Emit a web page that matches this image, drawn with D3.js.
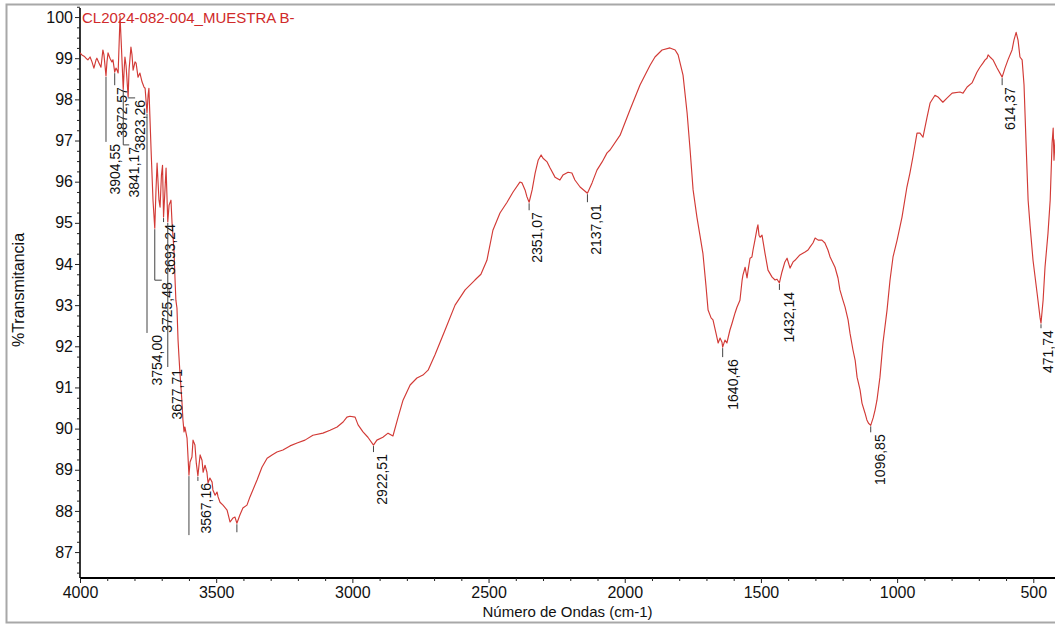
<!DOCTYPE html>
<html>
<head>
<meta charset="utf-8">
<script src="https://cdn.jsdelivr.net/npm/d3@7"></script>
<style>
  body { margin: 0; background: #fff; }
  svg { display: block; font-family: "Liberation Sans", Arial, sans-serif; }
</style>
</head>
<body>
<svg id="chart" width="1055" height="626"></svg>
<script>
// ---- Texts ----
const sampleName = "CL2024-082-004_MUESTRA B-";
const xTitle = "Número de Ondas (cm-1)";
const yTitle = "%Transmitancia";

// ---- Axis ticks ----
const xTickValues = [4000, 3500, 3000, 2500, 2000, 1500, 1000, 500];
const yTickValues = [87, 88, 89, 90, 91, 92, 93, 94, 95, 96, 97, 98, 99, 100];

// ---- FTIR spectrum (cm-1, %T) ----
const wavenumber = [
  4000, 3993, 3985, 3978, 3971, 3963, 3956, 3949, 3941, 3938, 3930, 3923, 3916, 3912,
  3901, 3897, 3890, 3883, 3879, 3868, 3864, 3860, 3853, 3849, 3838, 3835, 3831,
  3820, 3813, 3809, 3805, 3798, 3794, 3787, 3780, 3772, 3765, 3761, 3750, 3747,
  3739, 3732, 3721, 3717, 3710, 3706, 3701, 3697, 3688, 3684, 3673, 3666, 3662,
  3655, 3651, 3648, 3644, 3640, 3637, 3633, 3626, 3622, 3618, 3615, 3607, 3600,
  3596, 3589, 3585, 3578, 3573, 3563, 3559, 3552, 3548, 3541, 3534, 3530, 3523,
  3515, 3512, 3504, 3497, 3493, 3486, 3475, 3460, 3449, 3438, 3431, 3424, 3413,
  3402, 3387, 3376, 3350, 3332, 3313, 3295, 3277, 3255, 3229, 3203, 3174, 3145,
  3108, 3082, 3056, 3034, 3020, 3009, 2990, 2979, 2961, 2943, 2910, 2888, 2869,
  2851, 2832, 2814, 2788, 2763, 2741, 2722, 2697, 2660, 2623, 2586, 2550, 2528,
  2506, 2484, 2458, 2432, 2410, 2385, 2377, 2366, 2359, 2340, 2329, 2318, 2307,
  2300, 2285, 2274, 2256, 2238, 2227, 2208, 2194, 2183, 2164, 2120, 2102, 2083,
  2065, 2054, 2017, 1981, 1944, 1907, 1889, 1863, 1834, 1815, 1804, 1786, 1771,
  1760, 1749, 1735, 1724, 1713, 1702, 1694, 1683, 1676, 1665, 1657, 1650, 1643,
  1632, 1625, 1614, 1606, 1595, 1588, 1577, 1569, 1566, 1558, 1551, 1547, 1540,
  1533, 1529, 1522, 1514, 1511, 1507, 1503, 1496, 1485, 1474, 1459, 1448, 1441,
  1423, 1412, 1404, 1393, 1382, 1375, 1357, 1346, 1338, 1327, 1320, 1309, 1301,
  1290, 1276, 1265, 1254, 1246, 1228, 1217, 1210, 1199, 1191, 1180, 1173, 1162,
  1154, 1147, 1136, 1129, 1118, 1111, 1105, 1088, 1081, 1074, 1063, 1052, 1037,
  1026, 1015, 1000, 982, 964, 953, 942, 927, 916, 905, 890, 879, 861, 850, 832,
  817, 798, 769, 758, 743, 725, 707, 696, 685, 677, 670, 666, 659, 648, 633, 604,
  593, 578, 571, 563, 556, 549, 541, 534, 527, 519, 512, 501, 486, 475, 464, 457,
  446, 438, 431, 427, 424, 420, 410
];
const transmittance = [
  99.13, 99.08, 99.05, 99.00, 98.96, 99.03, 98.91, 98.76, 98.96, 99.00, 98.88, 98.78, 99.20, 99.08,
  98.91, 99.13, 99.00, 98.91, 98.96, 98.76, 98.71, 98.64, 100.02, 99.44, 98.71, 99.03, 98.83,
  98.71, 99.27, 99.08, 98.71, 98.91, 98.88, 98.54, 98.64, 98.42, 98.30, 98.27, 98.10, 98.27,
  96.77, 95.55, 95.80, 96.45, 95.55, 95.38, 96.16, 96.40, 95.80, 96.33, 95.43, 95.55, 94.99,
  94.34, 93.61, 93.12, 92.93, 92.15, 91.79, 91.35, 90.69, 90.21, 89.92, 90.04, 89.77, 88.87,
  89.19, 89.31, 89.72, 89.60, 89.16, 89.12, 89.36, 89.23, 88.94, 89.11, 88.94, 88.68, 88.80,
  88.70, 88.51, 88.38, 88.46, 88.34, 88.21, 88.14, 88.02, 87.73, 87.83, 87.85, 87.70, 87.90,
  88.07, 88.14, 88.34, 88.75, 89.06, 89.28, 89.36, 89.43, 89.48, 89.58, 89.65, 89.72, 89.84,
  89.89, 89.96, 90.04, 90.16, 90.28, 90.30, 90.28, 90.09, 89.92, 89.79, 89.72, 89.79, 89.89,
  89.82, 90.28, 90.69, 91.06, 91.23, 91.30, 91.42, 91.79, 92.39, 93.00, 93.37, 93.61, 93.75,
  94.09, 94.82, 95.24, 95.50, 95.75, 95.99, 95.97, 95.80, 95.63, 95.80, 96.21, 96.52, 96.65,
  96.57, 96.48, 96.33, 96.11, 96.04, 96.16, 96.23, 96.21, 96.04, 95.87, 95.97, 96.28, 96.48,
  96.70, 96.77, 97.13, 97.74, 98.35, 98.83, 99.03, 99.20, 99.25, 99.20, 99.08, 98.59, 97.67,
  96.77, 95.80, 95.14, 94.70, 94.26, 93.49, 92.88, 92.69, 92.64, 92.32, 92.08, 92.20, 92.10,
  92.15, 92.08, 92.39, 92.56, 92.81, 92.95, 93.12, 93.61, 93.73, 93.92, 93.66, 93.85, 94.14,
  94.17, 94.34, 94.58, 94.87, 94.95, 94.70, 94.65, 94.70, 94.26, 93.85, 93.68, 93.61, 93.63,
  93.80, 94.05, 94.14, 93.90, 94.05, 94.09, 94.22, 94.26, 94.29, 94.34, 94.41, 94.51, 94.63,
  94.58, 94.58, 94.51, 94.34, 94.17, 93.92, 93.66, 93.37, 93.12, 92.95, 92.64, 92.32, 91.91,
  91.66, 91.25, 90.94, 90.62, 90.38, 90.21, 90.13, 90.26, 90.45, 90.69, 91.25, 92.08, 92.88,
  93.61, 94.17, 94.58, 95.14, 95.87, 96.21, 96.60, 97.18, 97.18, 97.08, 97.57, 97.91, 98.10, 98.06, 97.93,
  98.03, 98.15, 98.18, 98.15, 98.30, 98.40, 98.66, 98.78, 98.88, 98.96, 99.00, 99.08, 99.03, 98.96, 98.76, 98.76,
  98.96, 99.20, 99.44, 99.63, 99.44, 99.03, 98.96, 98.35, 97.01, 95.55, 94.94, 94.09, 93.29, 92.69, 93.12, 93.92,
  94.75, 95.55, 96.94, 97.30, 96.52, 97.01, 97.20
];

// ---- Picked peaks ----
const peakWavenumber = [
  3904.55, 3872.57, 3841.17, 3823.26, 3754.00, 3725.48, 3693.24, 3677.71, 3567.16,
  2922.51, 2351.07, 2137.01, 1640.46, 1432.14, 1096.85, 614.37, 471.74
];
const peakTransmittance = [
  98.57, 98.66, 98.23, 98.06, 97.67, 94.87, 95.14, 95.02, 88.85,
  89.60, 95.50, 95.72, 91.98, 93.54, 90.08, 98.54, 92.56
];
// Marks without a printed value
const plainMarkWavenumber = [3600, 3424];
const plainMarkTransmittance = [88.87, 87.70];

// ---- Label layout: leader length and text shift (px) ----
const leaderLength = [66, 13, 55, 1, 220, 52, 5, 145, 5, 7, 8, 9, 10, 7, 7, 8, 5];
const labelShift   = [9, 7, 11, 12, 10, 12, 6, 9, 8, 9, 8, 9, 10, 10, 9, 8, 7];
const plainMarkLength = [60, 9];

// ---- Scales ----
const svg = d3.select("#chart");
const plotLeft = 80, plotTop = 8, plotBottom = 578;
const x = d3.scaleLinear().domain([4000, 400]).range([plotLeft, plotLeft + 3600 * 0.27237]);
const y = d3.scaleLinear().domain([86.37, 100.22]).range([plotBottom, plotTop]);
const plotRight = 1060;

// outer frame
svg.append("rect")
  .attr("x", 6.5).attr("y", 4.5)
  .attr("width", 1062).attr("height", 618)
  .attr("fill", "none").attr("stroke", "#a8a8a8").attr("stroke-width", 2);

svg.append("clipPath").attr("id", "plot-clip")
  .append("rect")
  .attr("x", plotLeft).attr("y", plotTop - 4)
  .attr("width", plotRight - plotLeft).attr("height", plotBottom - plotTop + 4);

// merge spectrum with peak points so the trace passes through every picked peak
const spectrum = wavenumber.map((w, i) => ({ w, t: transmittance[i] }))
  .concat(peakWavenumber.map((w, i) => ({ w, t: peakTransmittance[i] })))
  .concat(plainMarkWavenumber.map((w, i) => ({ w, t: plainMarkTransmittance[i] })))
  .sort((a, b) => b.w - a.w);

// ---- Axes ----
const yMinor = d3.range(86.5, 100.26, 0.25).filter(v => Math.abs(v - Math.round(v)) > 0.01);
const xMinor = d3.range(4000, 399, -100).filter(v => v % 500 !== 0);

const yAxis = svg.append("g").attr("transform", `translate(${plotLeft},0)`)
  .call(d3.axisLeft(y).tickValues(yTickValues).tickSize(5).tickPadding(2).tickSizeOuter(0).tickFormat(d3.format("d")));
yAxis.select(".domain").attr("stroke", "#000").attr("stroke-width", 1.6)
  .attr("d", `M0,${plotTop}V${plotBottom}`);
yAxis.selectAll("text").attr("font-size", 16).attr("fill", "#111")
  .attr("font-family", "'Liberation Sans', Arial, sans-serif");
yAxis.selectAll(".tick line").attr("stroke", "#222");

svg.append("g").attr("transform", `translate(${plotLeft},0)`)
  .call(d3.axisLeft(y).tickValues(yMinor).tickSize(3).tickFormat(""))
  .call(g => g.select(".domain").remove())
  .selectAll("line").attr("stroke", "#222");

const xAxis = svg.append("g").attr("transform", `translate(0,${plotBottom})`)
  .call(d3.axisBottom(x).tickValues(xTickValues).tickSize(5).tickPadding(4).tickSizeOuter(0).tickFormat(d3.format("d")));
xAxis.select(".domain").attr("stroke", "#000").attr("stroke-width", 2.2)
  .attr("d", `M${plotLeft},0H${plotRight}`);
xAxis.selectAll("text").attr("font-size", 16).attr("fill", "#111")
  .attr("font-family", "'Liberation Sans', Arial, sans-serif");
xAxis.selectAll(".tick line").attr("stroke", "#222");

svg.append("g").attr("transform", `translate(0,${plotBottom})`)
  .call(d3.axisBottom(x).tickValues(xMinor).tickSize(3).tickFormat(""))
  .call(g => g.select(".domain").remove())
  .selectAll("line").attr("stroke", "#222");

// axis titles
svg.append("text")
  .attr("x", (plotLeft + 1055) / 2).attr("y", 617)
  .attr("text-anchor", "middle").attr("font-size", 15).attr("fill", "#111")
  .text(xTitle);

svg.append("text")
  .attr("transform", `translate(18,290) rotate(-90)`)
  .attr("text-anchor", "middle").attr("dominant-baseline", "central")
  .attr("font-size", 16).attr("fill", "#111")
  .text(yTitle);

// ---- Spectrum trace ----
const plot = svg.append("g").attr("clip-path", "url(#plot-clip)");
plot.append("path")
  .datum(spectrum)
  .attr("fill", "none")
  .attr("stroke", "#d23a36")
  .attr("stroke-width", 1.15)
  .attr("stroke-linejoin", "round")
  .attr("d", d3.line().x(d => x(d.w)).y(d => y(d.t)));

// ---- Peak annotations ----
const fmtPeak = v => d3.format(".2f")(v).replace(".", ",");
const ann = svg.append("g").attr("clip-path", "url(#plot-clip)");

peakWavenumber.forEach((w, i) => {
  const px = x(w), py = y(peakTransmittance[i]);
  const yEnd = py + leaderLength[i];
  const tx = px + labelShift[i];
  let d = `M${px},${py + 1}V${yEnd}`;
  if (labelShift[i] > 10) d += `H${tx - 5}`;
  ann.append("path").attr("d", d)
    .attr("fill", "none").attr("stroke", "#444").attr("stroke-width", 1);
  ann.append("text")
    .attr("transform", `translate(${tx},${yEnd + 2}) rotate(-90)`)
    .attr("text-anchor", "end").attr("dominant-baseline", "central")
    .attr("font-size", 14).attr("fill", "#111")
    .text(fmtPeak(w));
});

plainMarkWavenumber.forEach((w, i) => {
  const px = x(w), py = y(plainMarkTransmittance[i]);
  ann.append("path").attr("d", `M${px},${py + 1}V${py + plainMarkLength[i]}`)
    .attr("fill", "none").attr("stroke", "#444").attr("stroke-width", 1);
});

// sample name
svg.append("text")
  .attr("x", plotLeft + 2).attr("y", 23)
  .attr("font-size", 15).attr("fill", "#d02a2a")
  .text(sampleName);
</script>
</body>
</html>
